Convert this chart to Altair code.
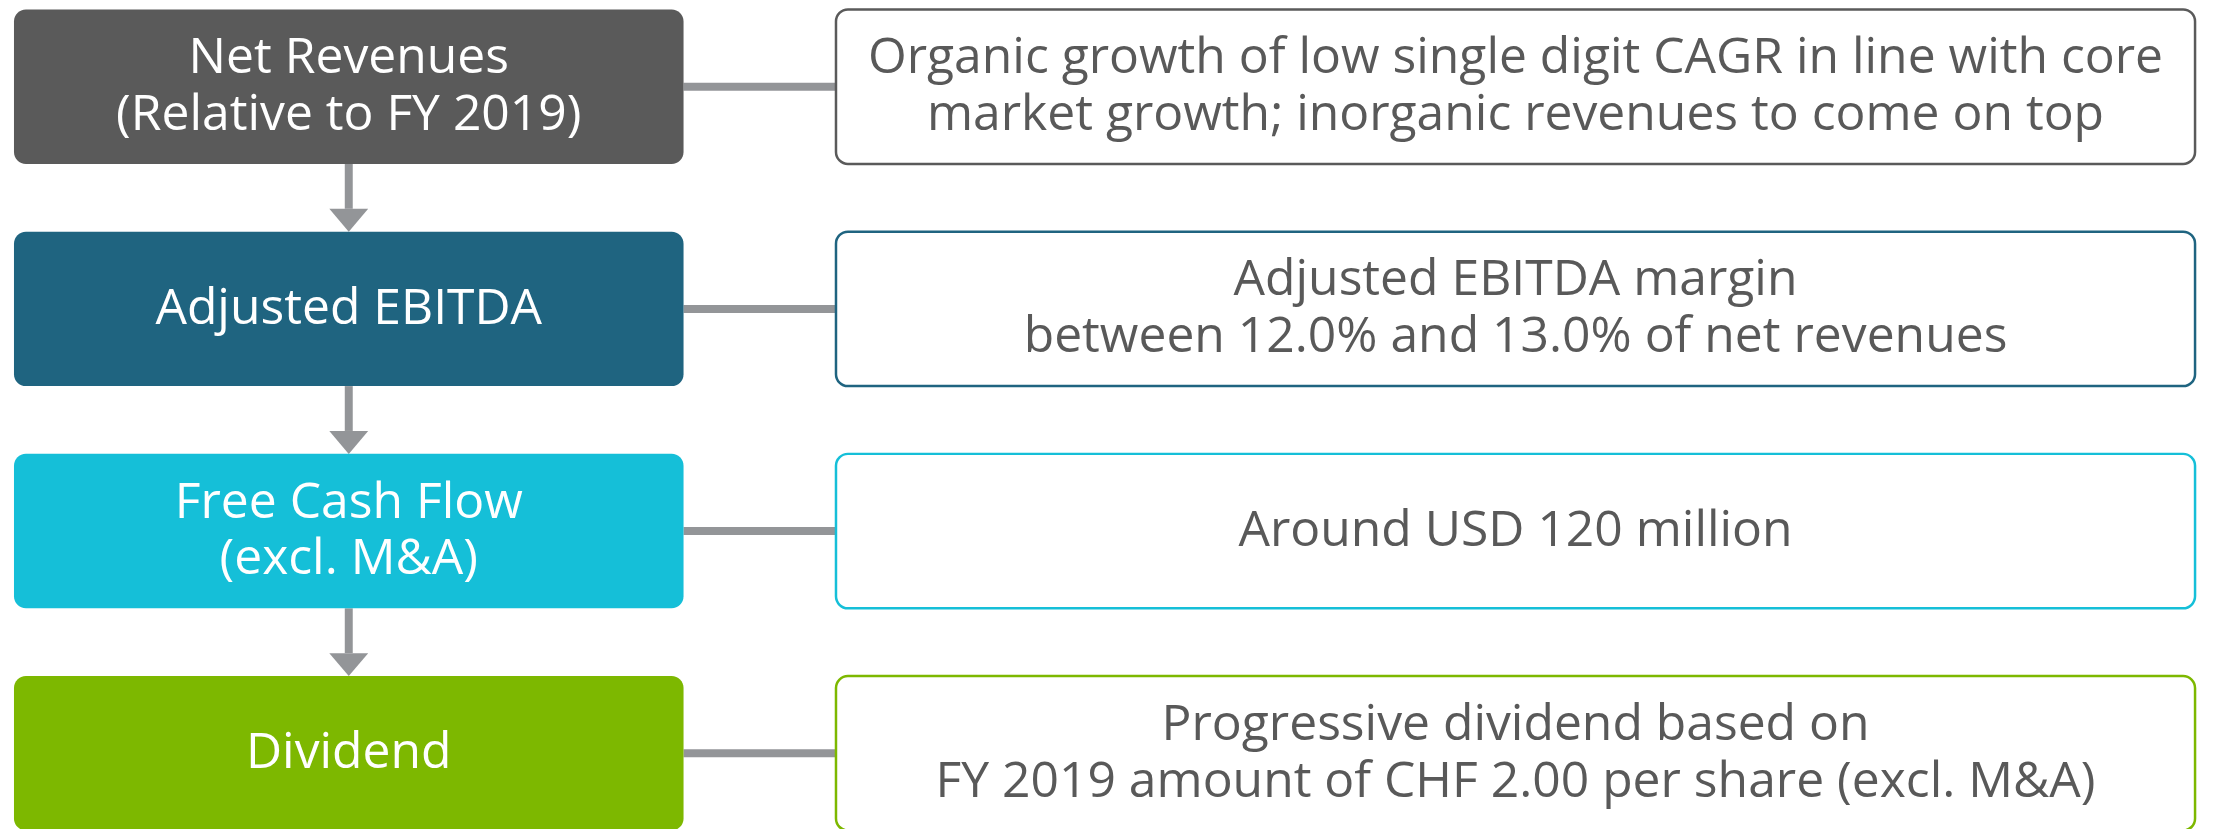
import altair as alt
import pandas as pd

# ---- content ----
stages = [
    ["Net Revenues", "(Relative to FY 2019)"],
    ["Adjusted EBITDA"],
    ["Free Cash Flow", "(excl. M&A)"],
    ["Dividend"],
]
targets = [
    ["Organic growth of low single digit CAGR in line with core",
     "market growth; inorganic revenues to come on top"],
    ["Adjusted EBITDA margin", "between 12.0% and 13.0% of net revenues"],
    ["Around USD 120 million"],
    ["Progressive dividend based on",
     "FY 2019 amount of CHF 2.00 per share (excl. M&A)"],
]
colors = ["#5a5a5a", "#1f6480", "#15bfd8", "#7db800"]

# ---- layout (page pixel space) ----
W, H = 2208, 821
TOP0, PITCH, BOX_H = 8, 223, 155
LX0, LX1 = 14, 686
RX0, RX1 = 839, 2203
GRAY = "#939598"
FONT = "Open Sans"
FS, LH = 50, 57

rows = []
for i, c in enumerate(colors):
    y0 = TOP0 + i * PITCH
    y1 = y0 + BOX_H
    rows.append(dict(i=i, color=c, y0=y0, y1=y1, yc=(y0 + y1) / 2,
                     lx0=LX0, lx1=LX1, rx0=RX0, rx1=RX1))
df = pd.DataFrame(rows)

def text_rows(lines_list, xc):
    out = []
    for i, lines in enumerate(lines_list):
        yc = rows[i]["yc"]
        n = len(lines)
        for k, t in enumerate(lines):
            out.append(dict(x=xc, y=yc + (k - (n - 1) / 2) * LH, t=t))
    return pd.DataFrame(out)

ltext = text_rows(stages, (LX0 + LX1) / 2)
rtext = text_rows(targets, (RX0 + RX1) / 2)

arrows = pd.DataFrame([
    dict(x=(LX0 + LX1) / 2, s0=r["y1"], s1=r["y1"] + PITCH - BOX_H - 23,
         tip=r["y1"] + PITCH - BOX_H - 11.5)
    for r in rows[:-1]
])

xs = alt.Scale(domain=[8, 8 + W], range=[0, W], zero=False, nice=False)
ys = alt.Scale(domain=[8, 8 + H], range=[0, H], zero=False, nice=False)

def X(f):
    return alt.X(f, type="quantitative", scale=xs, axis=None)

def Y(f):
    return alt.Y(f, type="quantitative", scale=ys, axis=None)

base = alt.Chart(df)

connectors = base.mark_rule(color=GRAY, strokeWidth=8).encode(
    x=X("lx1"), x2="rx0", y=Y("yc"))

left_boxes = base.mark_rect(cornerRadius=12).encode(
    x=X("lx0"), x2="lx1", y=Y("y0"), y2="y1",
    color=alt.Color("color:N", scale=None))

right_boxes = base.mark_rect(cornerRadius=12, fill="white", strokeWidth=2.5).encode(
    x=X("rx0"), x2="rx1", y=Y("y0"), y2="y1",
    stroke=alt.Color("color:N", scale=None))

left_text = alt.Chart(ltext).mark_text(font=FONT, fontSize=FS, color="white",
                                       align="center", baseline="middle").encode(
    x=X("x"), y=Y("y"), text="t:N")

right_text = alt.Chart(rtext).mark_text(font=FONT, fontSize=FS, color="#595959",
                                        align="center", baseline="middle").encode(
    x=X("x"), y=Y("y"), text="t:N")

a = alt.Chart(arrows)
stems = a.mark_rule(color=GRAY, strokeWidth=8).encode(
    x=X("x"), y=Y("s0"), y2="s1")
heads = a.mark_point(shape="M-1,-0.59L1,-0.59L0,0.59Z", size=1521,
                     filled=True, color=GRAY, opacity=1, strokeWidth=0).encode(
    x=X("x"), y=Y("tip"))

chart = alt.layer(connectors, stems, heads, left_boxes, right_boxes,
                  left_text, right_text).properties(
    width=W, height=H,
    autosize=alt.AutoSizeParams(type="none"),
    padding=0,
).configure_view(stroke=None)

chart.save("out.html", embed_options={"renderer": "svg", "actions": False})
